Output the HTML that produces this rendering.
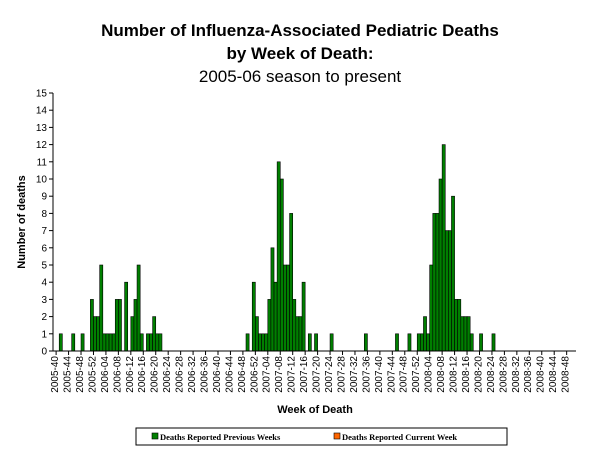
<!DOCTYPE html>
<html><head><meta charset="utf-8"><style>
body{margin:0;background:#fff;width:600px;height:450px;overflow:hidden;font-family:"Liberation Sans",Arial,sans-serif}
</style></head><body>
<svg id="chart" width="600" height="450" xmlns="http://www.w3.org/2000/svg" font-family="Liberation Sans, Arial, sans-serif">
<text x="300" y="36" text-anchor="middle" font-size="17" font-weight="bold">Number of Influenza-Associated Pediatric Deaths</text>
<text x="300" y="59" text-anchor="middle" font-size="17" font-weight="bold">by Week of Death:</text>
<text x="300" y="82" text-anchor="middle" font-size="17">2005-06 season to present</text>
<text transform="translate(25,222) rotate(-90)" text-anchor="middle" font-size="11" font-weight="bold">Number of deaths</text>
<text x="315" y="413" text-anchor="middle" font-size="11" font-weight="bold">Week of Death</text>
<g id="plot"></g>
<g>
<rect x="136" y="428" width="371" height="17" fill="#fff" stroke="#000" stroke-width="1"/>
<rect x="152" y="433" width="6" height="6" fill="#007f00" stroke="#000" stroke-width="0.6"/>
<text x="160" y="440" font-size="8.5" font-family="Liberation Serif, serif" font-weight="bold">Deaths Reported Previous Weeks</text>
<rect x="334" y="433" width="6" height="6" fill="#ff6600" stroke="#000" stroke-width="0.6"/>
<text x="342" y="440" font-size="8.5" font-family="Liberation Serif, serif" font-weight="bold">Deaths Reported Current Week</text>
</g>
</svg>
<script>
const previousWeeks = [
0,0,1,0,0,0,1,0,0,1,
0,0,3,2,2,5,1,1,1,1,
3,3,0,4,0,2,3,5,1,0,
1,1,2,1,1,0,0,0,0,0,
0,0,0,0,0,0,0,0,0,0,
0,0,0,0,0,0,0,0,0,0,
0,0,1,0,4,2,1,1,1,3,
6,4,11,10,5,5,8,3,2,2,
4,0,1,0,1,0,0,0,0,1,
0,0,0,0,0,0,0,0,0,0,
1,0,0,0,0,0,0,0,0,0,
1,0,0,0,1,0,0,1,1,2,
1,5,8,8,10,12,7,7,9,3,
3,2,2,2,1,0,0,1,0,0,
0,1,0,0,0,0,0,0,0,0,
0,0,0,0,0,0,0,0,0,0,
0,0,0,0,0,0,0,0];
const currentWeek = new Array(previousWeeks.length).fill(0);
const yTicks = [0,1,2,3,4,5,6,7,8,9,10,11,12,13,14,15];
const seasonYears = [2005,2006,2007,2008];
const categories = [];
(function(){let y=2005,w=40;for(let i=0;i<previousWeeks.length;i++){categories.push(y+'-'+String(w).padStart(2,'0'));w++;if(w>52){w=1;y++;}}})();

const NS='http://www.w3.org/2000/svg';
const plot=document.getElementById('plot');
const X0=53,X1=576,Y0=351,Y1=93,YMAX=15;
const n=categories.length, step=(X1-X0)/n;
const xs=i=>X0+i*step;
const ys=v=>Y0-(v/YMAX)*(Y0-Y1);
function mk(t,a){const e=document.createElementNS(NS,t);for(const k in a)e.setAttribute(k,a[k]);plot.appendChild(e);return e;}
// y axis
let ax=mk('line',{x1:X0,y1:Y1,x2:X0,y2:Y0,stroke:'#000','stroke-width':1});


yTicks.forEach(v=>{
  const t=mk('line',{x1:X0-4,y1:ys(v),x2:X0,y2:ys(v),stroke:'#000'});
  
  
  const l=mk('text',{x:X0-6,y:ys(v)+3.5,'text-anchor':'end','font-size':10});
  
  
  l.textContent=v;
});
// bars
previousWeeks.forEach((v,i)=>{
  if(v<=0)return;
  const b=mk('rect',{x:xs(i),y:ys(v),width:step,height:Y0-ys(v),fill:'#007f00',stroke:'#000','stroke-width':0.6});
  
  
});
currentWeek.forEach((v,i)=>{
  if(v<=0)return;
  const b=mk('rect',{x:xs(i),y:ys(previousWeeks[i]+v),width:step,height:ys(previousWeeks[i])-ys(previousWeeks[i]+v),fill:'#ff6600',stroke:'#000','stroke-width':0.6});
  
  
});
// x axis
let xa=mk('line',{x1:X0,y1:Y0,x2:X1,y2:Y0,stroke:'#000','stroke-width':1});


for(let i=0;i<n;i+=4){
  const tx=xs(i+1);
  const t=mk('line',{x1:tx,y1:Y0,x2:tx,y2:Y0+4,stroke:'#000'});
  
  
  const cx=xs(i)+step/2+3.5;
  const l=mk('text',{x:cx,y:Y0+5,'text-anchor':'end','font-size':10,transform:'rotate(-90 '+cx+' '+(Y0+5)+')'});
  
  
  l.textContent=categories[i];
}
</script>
</body></html>
